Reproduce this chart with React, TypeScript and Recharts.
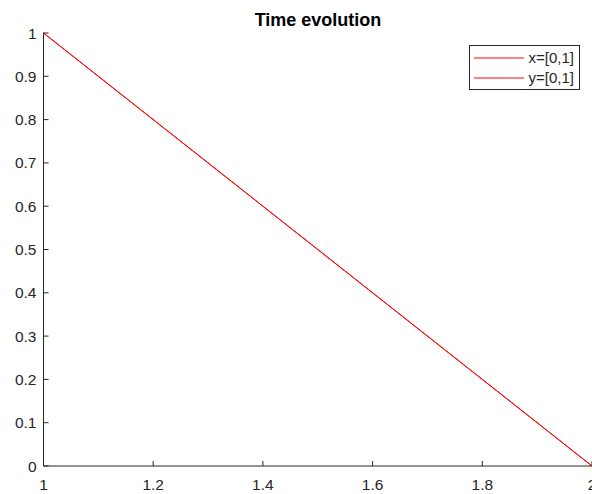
import { LineChart, Line, XAxis, YAxis, Legend } from 'recharts'

const times = [1, 2]
const xValues = [1, 0]
const yValues = [1, 0]
const seriesNames = ['x=[0,1]', 'y=[0,1]']
const xTicks = [1, 1.2, 1.4, 1.6, 1.8, 2]
const yTicks = [0, 0.1, 0.2, 0.3, 0.4, 0.5, 0.6, 0.7, 0.8, 0.9, 1]
const chartTitle = 'Time evolution'

const data = times.map((t, i) => ({ t, x: xValues[i], y: yValues[i] }))

const AXIS = '#262626'
const FONT = 'Arial, "Liberation Sans", Helvetica, sans-serif'
const TICK_LEN = 5

function BottomTick({ x, y, payload }: any) {
  return (
    <g>
      <line x1={x} x2={x} y1={y} y2={y - TICK_LEN} stroke={AXIS} />
      <text x={x} y={y + 24} textAnchor="middle" fontSize={15.5} fontFamily={FONT} fill={AXIS}>
        {payload.value}
      </text>
    </g>
  )
}

function TopTick({ x, y }: any) {
  return <line x1={x} x2={x} y1={y} y2={y + TICK_LEN} stroke={AXIS} />
}

function LeftTick({ x, y, payload }: any) {
  return (
    <g>
      <line x1={x} x2={x + TICK_LEN} y1={y} y2={y} stroke={AXIS} />
      <text x={x - 7} y={y + 5.5} textAnchor="end" fontSize={15.5} fontFamily={FONT} fill={AXIS}>
        {payload.value}
      </text>
    </g>
  )
}

function RightTick({ x, y }: any) {
  return <line x1={x} x2={x - TICK_LEN} y1={y} y2={y} stroke={AXIS} />
}

function LegendBox({ payload }: any) {
  return (
    <div
      style={{
        boxSizing: 'border-box',
        width: 111,
        height: 45,
        border: `1.5px solid ${AXIS}`,
        background: '#fff',
        paddingTop: 2,
        fontFamily: FONT,
        fontSize: 15,
        color: AXIS,
      }}
    >
      {(payload || []).map((p: any) => (
        <div
          key={p.value}
          style={{
            height: 20,
            display: 'flex',
            alignItems: 'center',
            justifyContent: 'space-between',
            padding: '0 5px 0 4px',
          }}
        >
          <svg width={50} height={4}>
            <line x1={0} x2={50} y1={2} y2={2} stroke={p.color} strokeWidth={1} />
          </svg>
          <span style={{ lineHeight: '20px' }}>{p.value}</span>
        </div>
      ))}
    </div>
  )
}

export default function App() {
  return (
    <div style={{ position: 'absolute', left: 0, top: 0, width: 592, height: 494, background: '#fff' }}>
      <LineChart width={592} height={494} data={data} margin={{ top: 33, right: 0, bottom: 0, left: 0 }}>
        <text x={318} y={26} textAnchor="middle" fontSize={18} fontWeight="bold" fontFamily={FONT} fill="#000">
          {chartTitle}
        </text>
        <XAxis
          dataKey="t"
          type="number"
          domain={[1, 2]}
          ticks={xTicks}
          height={28}
          tickSize={0}
          tickMargin={0}
          tickLine={false}
          axisLine={{ stroke: AXIS }}
          tick={<BottomTick />}
          interval={0}
        />
        <XAxis
          xAxisId="top"
          orientation="top"
          dataKey="t"
          type="number"
          domain={[1, 2]}
          ticks={xTicks}
          height={0}
          tickSize={0}
          tickMargin={0}
          tickLine={false}
          axisLine={{ stroke: AXIS }}
          tick={<TopTick />}
          interval={0}
        />
        <YAxis
          type="number"
          domain={[0, 1]}
          ticks={yTicks}
          width={43.5}
          tickSize={0}
          tickMargin={0}
          tickLine={false}
          axisLine={{ stroke: AXIS }}
          tick={<LeftTick />}
          interval={0}
        />
        <YAxis
          yAxisId="right"
          orientation="right"
          type="number"
          domain={[0, 1]}
          ticks={yTicks}
          width={0}
          tickSize={0}
          tickMargin={0}
          tickLine={false}
          axisLine={{ stroke: AXIS }}
          tick={<RightTick />}
          interval={0}
        />
        <Legend
          layout="vertical"
          align="center"
          verticalAlign="middle"
          content={<LegendBox />}
          wrapperStyle={{ position: 'absolute', left: 469, top: 45, width: 111 }}
        />
        <Line
          dataKey="x"
          name={seriesNames[0]}
          stroke="#ff0000"
          strokeWidth={1}
          dot={false}
          isAnimationActive={false}
        />
        <Line
          dataKey="y"
          name={seriesNames[1]}
          stroke="#ff0000"
          strokeWidth={1}
          dot={false}
          isAnimationActive={false}
        />
      </LineChart>
    </div>
  )
}
